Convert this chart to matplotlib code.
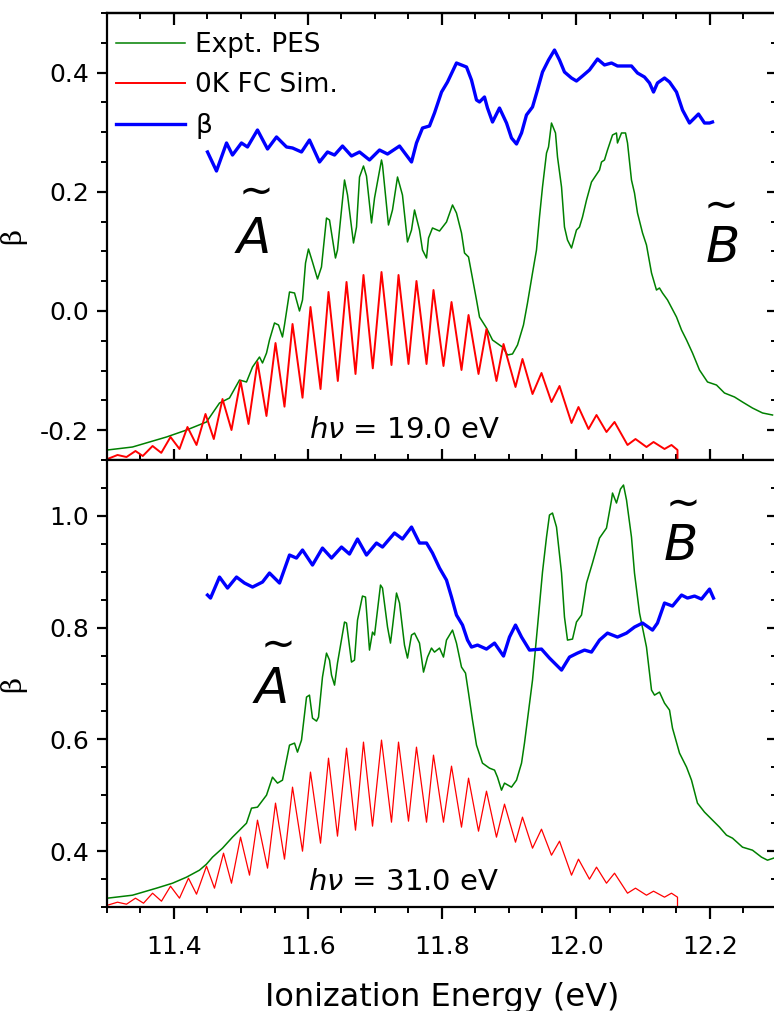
import matplotlib
matplotlib.use("Agg")
import matplotlib.pyplot as plt
from matplotlib.ticker import MultipleLocator, FuncFormatter

# Values: x = ionization energy (eV), y = axis units
top_pes = [
    (11.3007, -0.2332), (11.338, -0.2282), (11.3888, -0.2114), (11.4187, -0.1997),
    (11.4485, -0.1862), (11.4679, -0.1544), (11.4828, -0.146), (11.4978, -0.1158),
    (11.5082, -0.1191), (11.5172, -0.094), (11.5276, -0.0772), (11.5321, -0.0872),
    (11.5381, -0.0705), (11.5425, -0.0487), (11.55, -0.0201), (11.556, -0.0235),
    (11.5619, -0.0436), (11.5649, -0.0235), (11.5724, 0.0319), (11.5799, 0.0302),
    (11.5873, 0.0), (11.5918, 0.0185), (11.5963, 0.0805), (11.6007, 0.104),
    (11.6067, 0.0822), (11.6142, 0.0537), (11.6201, 0.0738), (11.6276, 0.156),
    (11.6321, 0.1527), (11.641, 0.0889), (11.644, 0.1023), (11.6545, 0.2198),
    (11.659, 0.1946), (11.6679, 0.1141), (11.6724, 0.1409), (11.6769, 0.2248),
    (11.6828, 0.2433), (11.6873, 0.2265), (11.6948, 0.1477), (11.6993, 0.1896),
    (11.7097, 0.2534), (11.7112, 0.245), (11.7201, 0.1443), (11.7261, 0.1695),
    (11.7336, 0.2248), (11.741, 0.1946), (11.7485, 0.1158), (11.7545, 0.1359),
    (11.759, 0.1695), (11.7664, 0.1359), (11.7709, 0.1023), (11.7769, 0.0889),
    (11.7799, 0.1225), (11.7858, 0.1393), (11.7963, 0.1342), (11.8067, 0.1493),
    (11.8157, 0.1779), (11.8216, 0.1644), (11.8291, 0.1309), (11.8336, 0.0973),
    (11.8396, 0.0906), (11.8515, 0.0185), (11.856, -0.0101), (11.8664, -0.0285),
    (11.8754, -0.0487), (11.8858, -0.057), (11.8903, -0.0604), (11.8978, -0.0738),
    (11.9052, -0.0721), (11.9127, -0.057), (11.9216, -0.0235), (11.9276, 0.0134),
    (11.9351, 0.0638), (11.941, 0.1023), (11.9455, 0.1577), (11.95, 0.208),
    (11.956, 0.2651), (11.959, 0.2752), (11.9634, 0.3154), (11.9694, 0.2987),
    (11.9724, 0.2584), (11.9784, 0.208), (11.9828, 0.1409), (11.9873, 0.1191),
    (11.9933, 0.1057), (12.0007, 0.1359), (12.0052, 0.1409), (12.0097, 0.1577),
    (12.0157, 0.1862), (12.0231, 0.2164), (12.0351, 0.2366), (12.0381, 0.25),
    (12.0425, 0.2534), (12.047, 0.2701), (12.0545, 0.2953), (12.0604, 0.2987),
    (12.0619, 0.2819), (12.0679, 0.2987), (12.0739, 0.2987), (12.0769, 0.2819),
    (12.0828, 0.2198), (12.0873, 0.198), (12.0918, 0.1644), (12.0993, 0.1309),
    (12.1052, 0.1107), (12.1127, 0.0638), (12.1201, 0.0352), (12.1246, 0.0386),
    (12.1291, 0.0302), (12.1366, 0.0185), (12.15, -0.0101), (12.1575, -0.0319),
    (12.165, -0.0487), (12.1739, -0.0705), (12.1843, -0.099), (12.1963, -0.1191),
    (12.2097, -0.1242), (12.2216, -0.1376), (12.2366, -0.1443), (12.2485, -0.1527),
    (12.2634, -0.1628), (12.2784, -0.1711), (12.2933, -0.1745),
]

top_fc = [
    (11.3007, -0.2483), (11.3157, -0.2416), (11.3291, -0.245), (11.3425, -0.2349),
    (11.3534, -0.2433), (11.368, -0.2265), (11.381, -0.238), (11.3948, -0.2114),
    (11.4082, -0.2315), (11.4201, -0.1946), (11.4336, -0.2248), (11.447, -0.1728),
    (11.4594, -0.2148), (11.4724, -0.1477), (11.4858, -0.1997), (11.4993, -0.1174),
    (11.5112, -0.1896), (11.5246, -0.0856), (11.538, -0.1762), (11.5515, -0.0537),
    (11.5649, -0.1605), (11.5769, -0.0218), (11.5918, -0.1455), (11.6037, 0.0067),
    (11.6187, -0.1309), (11.6306, 0.0319), (11.6445, -0.1174), (11.6575, 0.0487),
    (11.6709, -0.1057), (11.6828, 0.0604), (11.6967, -0.0962), (11.7097, 0.0654),
    (11.7246, -0.0906), (11.7351, 0.0604), (11.75, -0.0889), (11.7619, 0.0503),
    (11.7769, -0.0889), (11.7873, 0.0352), (11.8022, -0.0923), (11.8142, 0.0151),
    (11.8291, -0.099), (11.8396, -0.0067), (11.8545, -0.1057), (11.8664, -0.0302),
    (11.8813, -0.1174), (11.8918, -0.0554), (11.9097, -0.1275), (11.9201, -0.0805),
    (11.9351, -0.1393), (11.9485, -0.104), (11.9634, -0.1527), (11.9754, -0.1258),
    (11.9933, -0.1879), (12.0037, -0.1611), (12.0187, -0.198), (12.0306, -0.1745),
    (12.0455, -0.203), (12.0575, -0.1862), (12.0769, -0.2248), (12.0888, -0.2148),
    (12.1052, -0.2282), (12.1157, -0.2198), (12.1321, -0.2315), (12.1425, -0.2248),
    (12.1515, -0.2332), (12.1515, -0.25),
]

top_beta = [
    (11.45, 0.2668), (11.4634, 0.2349), (11.4784, 0.2819), (11.4873, 0.2617),
    (11.5007, 0.2819), (11.5097, 0.2752), (11.5246, 0.3037), (11.5396, 0.2718),
    (11.553, 0.292), (11.5679, 0.2752), (11.5769, 0.2735), (11.5903, 0.2668),
    (11.6022, 0.2869), (11.6172, 0.25), (11.6291, 0.2668), (11.6396, 0.2617),
    (11.6515, 0.2768), (11.6649, 0.2601), (11.6769, 0.2668), (11.6918, 0.2534),
    (11.7067, 0.2701), (11.7187, 0.2634), (11.7366, 0.2768), (11.7545, 0.25),
    (11.7619, 0.2819), (11.7709, 0.307), (11.7813, 0.3104), (11.7888, 0.3322),
    (11.7993, 0.3674), (11.8082, 0.3842), (11.8216, 0.4161), (11.8366, 0.4094),
    (11.844, 0.3876), (11.8515, 0.354), (11.856, 0.3507), (11.8634, 0.3591),
    (11.8679, 0.3406), (11.8754, 0.3171), (11.8858, 0.3406), (11.8963, 0.3154),
    (11.9037, 0.2903), (11.9112, 0.2802), (11.9187, 0.2987), (11.9261, 0.3289),
    (11.9351, 0.3423), (11.9425, 0.3708), (11.95, 0.401), (11.959, 0.4211),
    (11.9679, 0.4379), (11.9754, 0.4211), (11.9828, 0.401), (11.9933, 0.3909),
    (12.0007, 0.3859), (12.0097, 0.3943), (12.0201, 0.4044), (12.0321, 0.4228),
    (12.0425, 0.4128), (12.053, 0.4161), (12.0619, 0.4111), (12.0724, 0.4111),
    (12.0828, 0.4111), (12.0918, 0.3993), (12.1022, 0.3926), (12.1097, 0.3826),
    (12.1157, 0.3674), (12.1216, 0.3826), (12.1321, 0.3909), (12.1396, 0.3842),
    (12.15, 0.3674), (12.159, 0.3372), (12.1694, 0.3154), (12.1769, 0.3238),
    (12.1828, 0.3305), (12.1918, 0.3154), (12.1993, 0.3154), (12.2037, 0.3171),
]

bot_pes = [
    (11.3007, 0.3158), (11.338, 0.3211), (11.3739, 0.3337), (11.3978, 0.3426),
    (11.4187, 0.3534), (11.438, 0.3659), (11.4485, 0.3767), (11.4575, 0.3892),
    (11.4724, 0.4053), (11.4873, 0.425), (11.4948, 0.4339), (11.5082, 0.45),
    (11.5157, 0.4769), (11.5246, 0.4787), (11.5381, 0.5002), (11.547, 0.5324),
    (11.5545, 0.5217), (11.5619, 0.527), (11.5724, 0.5897), (11.5799, 0.5933),
    (11.5843, 0.5772), (11.5903, 0.5987), (11.5978, 0.6757), (11.6022, 0.6792),
    (11.6067, 0.638), (11.6127, 0.6327), (11.6157, 0.6398), (11.6216, 0.7115),
    (11.6276, 0.7544), (11.6321, 0.7419), (11.6351, 0.715), (11.6396, 0.6971),
    (11.644, 0.7365), (11.6545, 0.81), (11.6575, 0.8082), (11.6649, 0.7383),
    (11.6694, 0.7419), (11.6739, 0.8135), (11.6813, 0.8565), (11.6858, 0.8547),
    (11.6918, 0.7598), (11.6963, 0.792), (11.6993, 0.7867), (11.7082, 0.8762),
    (11.7112, 0.8708), (11.7187, 0.801), (11.7231, 0.7723), (11.7261, 0.801),
    (11.7321, 0.8619), (11.7366, 0.844), (11.744, 0.7688), (11.7485, 0.7455),
    (11.7545, 0.7867), (11.759, 0.7902), (11.7664, 0.7723), (11.7724, 0.7204),
    (11.7784, 0.7473), (11.7843, 0.7634), (11.7888, 0.7562), (11.7963, 0.7634),
    (11.8022, 0.7473), (11.8067, 0.7777), (11.8157, 0.7956), (11.8216, 0.7723),
    (11.8291, 0.7294), (11.8351, 0.7186), (11.8396, 0.6828), (11.8455, 0.6345),
    (11.8515, 0.5897), (11.8604, 0.5575), (11.8709, 0.5485), (11.8784, 0.545),
    (11.8828, 0.5324), (11.8888, 0.5091), (11.8933, 0.5217), (11.9037, 0.5145),
    (11.9112, 0.527), (11.9187, 0.5575), (11.9231, 0.5933), (11.9351, 0.7061),
    (11.9425, 0.801), (11.95, 0.8995), (11.956, 0.9621), (11.9604, 1.0015),
    (11.9649, 1.0051), (11.9709, 0.98), (11.9784, 0.8977), (11.9828, 0.8189),
    (11.9873, 0.7777), (11.9948, 0.7795), (12.0007, 0.81), (12.0082, 0.8225),
    (12.0157, 0.8798), (12.0246, 0.9156), (12.0351, 0.9603), (12.0455, 0.9782),
    (12.053, 1.0284), (12.0545, 1.0409), (12.0604, 1.023), (12.0664, 1.0481),
    (12.0709, 1.0552), (12.0754, 1.0284), (12.0828, 0.9621), (12.0873, 0.8977),
    (12.0948, 0.8261), (12.1052, 0.7652), (12.1127, 0.6882), (12.1172, 0.6792),
    (12.1246, 0.6846), (12.1321, 0.6649), (12.1396, 0.6524), (12.144, 0.6202),
    (12.1545, 0.5754), (12.165, 0.5503), (12.1724, 0.527), (12.1813, 0.4859),
    (12.1918, 0.4698), (12.1993, 0.4608), (12.2142, 0.4429), (12.2246, 0.4286),
    (12.2336, 0.4232), (12.2485, 0.4071), (12.2634, 0.4017), (12.2769, 0.3892),
    (12.2858, 0.3838), (12.2948, 0.3874),
]

bot_fc = [
    (11.3007, 0.3032), (11.3157, 0.3086), (11.3291, 0.305), (11.3425, 0.3158),
    (11.3545, 0.3068), (11.368, 0.3247), (11.3813, 0.3104), (11.3948, 0.3372),
    (11.4082, 0.3158), (11.4216, 0.3516), (11.4336, 0.3229), (11.4485, 0.3731),
    (11.4604, 0.3337), (11.4739, 0.3963), (11.4858, 0.3426), (11.4993, 0.425),
    (11.5127, 0.357), (11.5246, 0.4554), (11.5396, 0.3695), (11.5515, 0.4859),
    (11.5649, 0.3856), (11.5769, 0.5145), (11.5918, 0.3999), (11.6037, 0.5414),
    (11.6187, 0.4142), (11.6306, 0.5664), (11.644, 0.4268), (11.6575, 0.5843),
    (11.6709, 0.4375), (11.6828, 0.5951), (11.6963, 0.4447), (11.7097, 0.5987),
    (11.7246, 0.4518), (11.7351, 0.5951), (11.75, 0.4536), (11.7619, 0.5861),
    (11.7769, 0.4518), (11.7873, 0.5718), (11.8022, 0.4518), (11.8142, 0.5521),
    (11.8291, 0.4429), (11.8396, 0.5306), (11.8545, 0.4357), (11.8664, 0.5073),
    (11.8813, 0.425), (11.8933, 0.4841), (11.9097, 0.416), (11.9201, 0.4608),
    (11.9351, 0.4053), (11.9485, 0.4393), (11.9634, 0.3927), (11.9754, 0.4178),
    (11.9933, 0.357), (12.0037, 0.3856), (12.0201, 0.3498), (12.0306, 0.3713),
    (12.0455, 0.3426), (12.0575, 0.3605), (12.0769, 0.3247), (12.0888, 0.3337),
    (12.1052, 0.3211), (12.1157, 0.3283), (12.1321, 0.3176), (12.1425, 0.3247),
    (12.1515, 0.3176), (12.1515, 0.2996),
]

bot_beta = [
    (11.45, 0.8583), (11.4545, 0.8529), (11.4679, 0.8905), (11.4799, 0.8708),
    (11.4933, 0.8905), (11.5052, 0.8798), (11.5172, 0.8726), (11.5321, 0.8816),
    (11.5425, 0.8977), (11.5575, 0.8798), (11.5724, 0.9299), (11.5828, 0.9245),
    (11.5918, 0.9389), (11.6067, 0.912), (11.6216, 0.9424), (11.6351, 0.9245),
    (11.65, 0.9442), (11.6619, 0.9317), (11.6739, 0.9586), (11.6873, 0.9299),
    (11.7022, 0.9514), (11.7112, 0.9442), (11.7291, 0.9693), (11.741, 0.9586),
    (11.7545, 0.98), (11.7664, 0.9514), (11.7769, 0.9514), (11.7858, 0.9335),
    (11.7963, 0.9066), (11.8067, 0.8851), (11.8142, 0.8547), (11.8216, 0.8225),
    (11.8306, 0.8046), (11.8381, 0.7777), (11.844, 0.7652), (11.853, 0.7688),
    (11.8664, 0.7616), (11.8784, 0.7723), (11.8918, 0.7491), (11.9007, 0.7831),
    (11.9097, 0.8046), (11.9187, 0.7831), (11.9306, 0.7598), (11.9485, 0.7616),
    (11.9604, 0.7455), (11.9784, 0.724), (11.9903, 0.7473), (12.0022, 0.7544),
    (12.0127, 0.7598), (12.0231, 0.7562), (12.0351, 0.7777), (12.047, 0.7902),
    (12.0619, 0.7831), (12.0754, 0.7902), (12.0873, 0.801), (12.0993, 0.8082),
    (12.1142, 0.7956), (12.1216, 0.8082), (12.1321, 0.844), (12.144, 0.8386),
    (12.1575, 0.8583), (12.1664, 0.8529), (12.1769, 0.8565), (12.1873, 0.8511),
    (12.1993, 0.869), (12.2052, 0.8529),
]

photon_labels = ["19.0", "31.0"]
legend_labels = ["Expt. PES", "0K FC Sim.", "β"]

GREEN = "#008000"
RED = "#ff0000"
BLUE = "#0000ff"

plt.rcParams["font.family"] = ["DejaVu Sans"]
plt.rcParams["axes.unicode_minus"] = False
plt.rcParams["mathtext.fontset"] = "dejavusans"

W, H = 774, 1011
fig = plt.figure(figsize=(W / 100, H / 100), dpi=100)
ax_top = fig.add_axes([107 / W, 1 - 460 / H, 670 / W, 447 / H])
ax_bot = fig.add_axes([107 / W, 1 - 907 / H, 670 / W, 447 / H])

fmt = FuncFormatter(lambda v, p: f"{round(v, 1) + 0.0:.1f}")


def dress(ax, ylim, bottom_dir):
    ax.set_xlim(11.3, 12.3)
    ax.set_ylim(*ylim)
    for axis in (ax.xaxis, ax.yaxis):
        axis.set_major_locator(MultipleLocator(0.2))
        axis.set_minor_locator(MultipleLocator(0.05))
        axis.set_major_formatter(fmt)
    for s in ax.spines.values():
        s.set_linewidth(1.6)
    ax.tick_params(axis="y", which="major", direction="out", length=7,
                   width=1.6, labelsize=18, pad=6)
    ax.tick_params(axis="y", which="minor", direction="out", length=4, width=1.4)
    big = 16 if bottom_dir == "inout" else 8.5
    ax.tick_params(axis="x", which="major", direction=bottom_dir, length=big,
                   width=1.6, labelsize=18, pad=12)
    ax.tick_params(axis="x", which="minor", direction=bottom_dir,
                   length=big / 2, width=1.4)

    right = ax.secondary_yaxis("right")
    right.yaxis.set_major_locator(MultipleLocator(0.2))
    right.yaxis.set_minor_locator(MultipleLocator(0.05))
    right.tick_params(which="major", direction="in", length=7, width=1.6,
                      labelright=False)
    right.tick_params(which="minor", direction="in", length=4, width=1.4)
    right.spines["right"].set_linewidth(1.6)

    ax.set_ylabel("β", fontsize=20, family="DejaVu Serif")
    ax.yaxis.set_label_coords(-0.12, 0.5)


def state_label(ax, letter, x, y, tx, ty):
    # italic state letter with a tilde set above it
    ax.text(x, y, "$" + letter + "$", fontsize=36, ha="center", va="baseline")
    ax.text(tx, ty, r"$\sim$", fontsize=30, ha="center", va="center")


# top panel, hv = 19 eV
x, y = zip(*top_pes)
ax_top.plot(x, y, color=GREEN, lw=1.1, label=legend_labels[0])
x, y = zip(*top_fc)
ax_top.plot(x, y, color=RED, lw=1.4, label=legend_labels[1])
x, y = zip(*top_beta)
ax_top.plot(x, y, color=BLUE, lw=2.4, label=legend_labels[2])
dress(ax_top, (-0.25, 0.5), "inout")
ax_top.tick_params(axis="x", labelbottom=False)
top = ax_top.secondary_xaxis("top")
top.xaxis.set_major_locator(MultipleLocator(0.2))
top.xaxis.set_minor_locator(MultipleLocator(0.05))
top.tick_params(which="major", direction="in", length=8.5, width=1.6, labeltop=False)
top.tick_params(which="minor", direction="in", length=4.5, width=1.4)
top.spines["top"].set_linewidth(1.6)

ax_top.legend(loc="upper left", bbox_to_anchor=(0.0134, 0.958), frameon=False,
              fontsize=19, handlelength=2.6, handletextpad=0.4,
              labelspacing=0.55, borderpad=0, borderaxespad=0)
state_label(ax_top, "A", 11.5164, 0.0973, 11.5142, 0.203)
state_label(ax_top, "B", 12.2172, 0.0822, 12.2082, 0.1795)
ax_top.text(11.6022, -0.2131, r"$h\nu$ = " + photon_labels[0] + " eV",
            fontsize=21, ha="left", va="baseline")

# bottom panel, hv = 31 eV
x, y = zip(*bot_pes)
ax_bot.plot(x, y, color=GREEN, lw=1.1)
x, y = zip(*bot_fc)
ax_bot.plot(x, y, color=RED, lw=0.9)
x, y = zip(*bot_beta)
ax_bot.plot(x, y, color=BLUE, lw=2.4)
dress(ax_bot, (0.3, 1.1), "out")
ax_bot.tick_params(axis="x", top=False)
ax_bot.set_xlabel("Ionization Energy (eV)", fontsize=23, labelpad=16)
state_label(ax_bot, "A", 11.5425, 0.6649, 11.547, 0.772)
state_label(ax_bot, "B", 12.1545, 0.9209, 12.1515, 1.0244)
ax_bot.text(11.5993, 0.3301, r"$h\nu$ = " + photon_labels[1] + " eV",
            fontsize=21, ha="left", va="baseline")

fig.savefig("out.png", dpi=100, facecolor="white")
